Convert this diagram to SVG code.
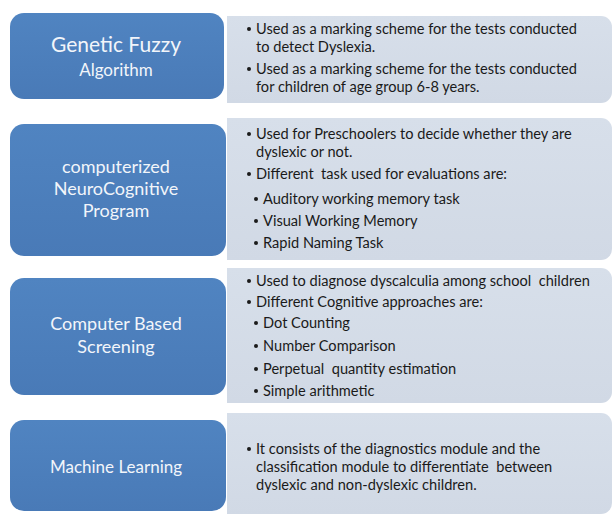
<svg xmlns="http://www.w3.org/2000/svg" width="614" height="514" viewBox="0 0 614 514">
  <defs>
    <linearGradient id="blueFill" x1="0" y1="0" x2="0" y2="1">
      <stop offset="0" stop-color="#5084C1"/>
      <stop offset="1" stop-color="#497AB7"/>
    </linearGradient>
    <linearGradient id="panelFill" x1="0" y1="0" x2="0" y2="1">
      <stop offset="0" stop-color="#D7DFEA"/>
      <stop offset="1" stop-color="#D1D9E5"/>
    </linearGradient>
  </defs>
  <style>
    .box { fill: url(#blueFill); }
    .panel { fill: url(#panelFill); }
    .title { font-family: Lato, "Open Sans", sans-serif; fill: #F2F5FA; text-anchor: middle; }
    .body { font-family: Lato, "Open Sans", sans-serif; font-size: 14.6px; fill: #1A1A1A; white-space: pre; }
    .dot { fill: #1A1A1A; }
  </style>
  <rect width="614" height="514" fill="#FFFFFF"/>

  <!-- Genetic Fuzzy Algorithm -->
  <g id="node-genetic-fuzzy">
    <path class="panel" d="M227 16 H601 A11 11 0 0 1 612 27 V92 A11 11 0 0 1 601 103 H227 Z"/>
    <rect class="box" x="10" y="13" width="214" height="86" rx="14"/>
    <text class="title" x="116" y="52" font-size="21">Genetic Fuzzy</text>
    <text class="title" x="116" y="76" font-size="17">Algorithm</text>
    <circle class="dot" cx="249" cy="29" r="2"/>
    <text class="body" x="256" y="34">Used as a marking scheme for the tests conducted</text>
    <text class="body" x="256" y="52">to detect Dyslexia.</text>
    <circle class="dot" cx="249" cy="69" r="2"/>
    <text class="body" x="256" y="74">Used as a marking scheme for the tests conducted</text>
    <text class="body" x="256" y="92">for children of age group 6-8 years.</text>
  </g>

  <!-- computerized NeuroCognitive Program -->
  <g id="node-neurocognitive">
    <path class="panel" d="M227 118 H601 A11 11 0 0 1 612 129 V249 A11 11 0 0 1 601 260 H227 Z"/>
    <rect class="box" x="10" y="124" width="216" height="132" rx="14"/>
    <text class="title" x="116" y="173" font-size="18">computerized</text>
    <text class="title" x="116" y="195" font-size="18">NeuroCognitive</text>
    <text class="title" x="116" y="217" font-size="18">Program</text>
    <circle class="dot" cx="249" cy="134" r="2"/>
    <text class="body" x="256" y="139">Used for Preschoolers to decide whether they are</text>
    <text class="body" x="256" y="157">dyslexic or not.</text>
    <circle class="dot" cx="249" cy="174" r="2"/>
    <text class="body" x="256" y="179">Different  task used for evaluations are:</text>
    <circle class="dot" cx="256" cy="199" r="2"/>
    <text class="body" x="263" y="204">Auditory working memory task</text>
    <circle class="dot" cx="256" cy="221" r="2"/>
    <text class="body" x="263" y="226">Visual Working Memory</text>
    <circle class="dot" cx="256" cy="243" r="2"/>
    <text class="body" x="263" y="248">Rapid Naming Task</text>
  </g>

  <!-- Computer Based Screening -->
  <g id="node-screening">
    <path class="panel" d="M227 268 H601 A11 11 0 0 1 612 279 V392 A11 11 0 0 1 601 403 H227 Z"/>
    <rect class="box" x="10" y="278" width="216" height="117" rx="14"/>
    <text class="title" x="116" y="330" font-size="18">Computer Based</text>
    <text class="title" x="116" y="353" font-size="18">Screening</text>
    <circle class="dot" cx="249" cy="281" r="2"/>
    <text class="body" x="256" y="286">Used to diagnose dyscalculia among school  children</text>
    <circle class="dot" cx="249" cy="302" r="2"/>
    <text class="body" x="256" y="307">Different Cognitive approaches are:</text>
    <circle class="dot" cx="256" cy="323" r="2"/>
    <text class="body" x="263" y="328">Dot Counting</text>
    <circle class="dot" cx="256" cy="346" r="2"/>
    <text class="body" x="263" y="351">Number Comparison</text>
    <circle class="dot" cx="256" cy="369" r="2"/>
    <text class="body" x="263" y="374">Perpetual  quantity estimation</text>
    <circle class="dot" cx="256" cy="391" r="2"/>
    <text class="body" x="263" y="396">Simple arithmetic</text>
  </g>

  <!-- Machine Learning -->
  <g id="node-machine-learning">
    <path class="panel" d="M227 413 H601 A11 11 0 0 1 612 424 V503 A11 11 0 0 1 601 514 H227 Z"/>
    <rect class="box" x="10" y="420" width="216" height="91" rx="14"/>
    <text class="title" x="116" y="473" font-size="17">Machine Learning</text>
    <circle class="dot" cx="249" cy="449" r="2"/>
    <text class="body" x="256" y="454">It consists of the diagnostics module and the</text>
    <text class="body" x="256" y="472">classification module to differentiate  between</text>
    <text class="body" x="256" y="490">dyslexic and non-dyslexic children.</text>
  </g>
</svg>
